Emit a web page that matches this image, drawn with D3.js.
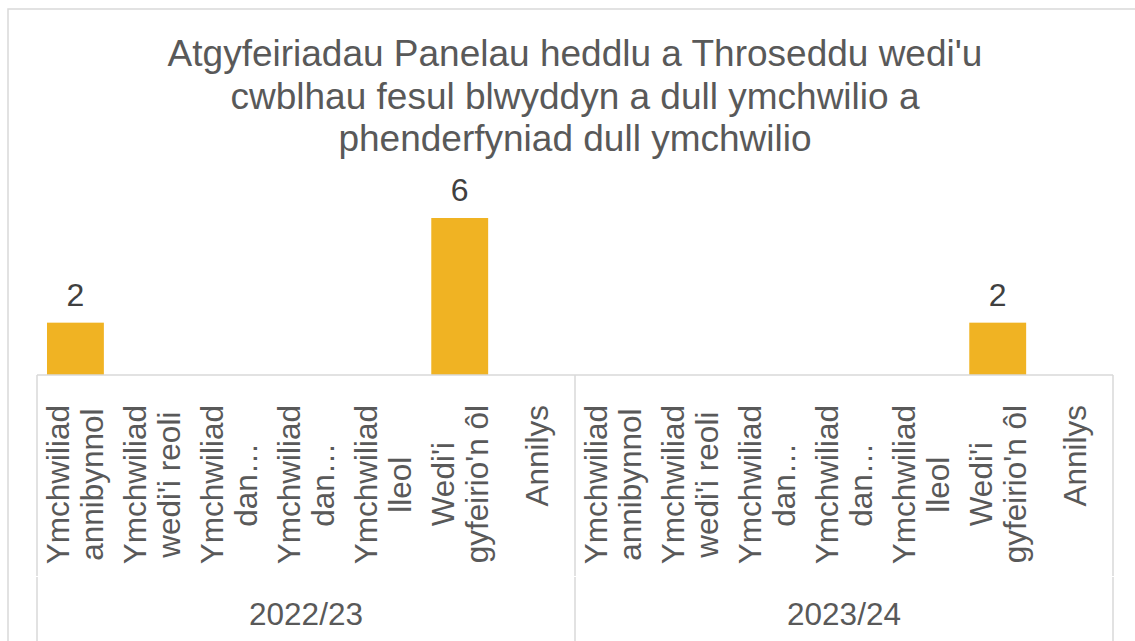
<!DOCTYPE html>
<html>
<head>
<meta charset="utf-8">
<script src="https://cdn.jsdelivr.net/npm/d3@7"></script>
<style>
body { margin: 0; background: #fff; }
svg { display: block; }
text { font-family: "Liberation Sans", Arial, sans-serif; }
</style>
</head>
<body>
<svg id="chart" width="1135" height="641"></svg>
<script>
var titleLines = [
    "Atgyfeiriadau Panelau heddlu a Throseddu wedi'u",
    "cwblhau fesul blwyddyn a dull ymchwilio a",
    "phenderfyniad dull ymchwilio"
];
var years = ["2022/23", "2023/24"];
var methods = [
    "Ymchwiliad annibynnol",
    "Ymchwiliad wedi'i reoli",
    "Ymchwiliad dan…",
    "Ymchwiliad dan…",
    "Ymchwiliad lleol",
    "Wedi'i gyfeirio'n ôl",
    "Annilys"
];
var values2022 = [2, 0, 0, 0, 0, 6, 0];
var values2023 = [0, 0, 0, 0, 0, 2, 0];
var series = [values2022, values2023];

var gold = "#F0B323";
var grid = "#d9d9d9";
var labelFont = 31.5;

var svg = d3.select("#chart");

// chart frame (cropped on the right and bottom)
svg.append("rect")
    .attr("x", 8).attr("y", 9)
    .attr("width", 1140).attr("height", 650)
    .attr("fill", "white")
    .attr("stroke", grid)
    .attr("stroke-width", 1.5);

var rows = [];
years.forEach(function(yr, g) {
    methods.forEach(function(m, i) {
        rows.push({key: yr + "|" + i, year: yr, name: m, value: series[g][i]});
    });
});

var x = d3.scaleBand()
    .domain(rows.map(function(d) { return d.key; }))
    .range([37, 1113])
    .paddingInner(0.26)
    .paddingOuter(0.13);
var xYear = d3.scaleBand().domain(years).range([37, 1113]);
var y = d3.scaleLinear().domain([0, 6]).range([375, 218]);

// title
svg.append("text")
    .attr("text-anchor", "middle")
    .attr("font-size", 37)
    .attr("fill", "#595959")
    .selectAll("tspan").data(titleLines).join("tspan")
    .attr("x", 575)
    .attr("y", function(d, i) { return 66 + i * 42.5; })
    .text(function(d) { return d; });

// bars
svg.append("g").selectAll("rect").data(rows).join("rect")
    .attr("x", function(d) { return x(d.key); })
    .attr("y", function(d) { return y(d.value); })
    .attr("width", x.bandwidth())
    .attr("height", function(d) { return y(0) - y(d.value); })
    .attr("fill", gold);

// data labels
svg.append("g").selectAll("text").data(rows.filter(function(d) { return d.value > 0; })).join("text")
    .attr("x", function(d) { return x(d.key) + x.bandwidth() / 2; })
    .attr("y", function(d) { return y(d.value) - 17; })
    .attr("text-anchor", "middle")
    .attr("font-size", 32)
    .attr("fill", "#404040")
    .text(function(d) { return d.value; });

// axis line and group dividers
var axis = svg.append("g").attr("stroke", grid).attr("stroke-width", 1.5);
axis.append("line")
    .attr("x1", xYear.range()[0]).attr("x2", xYear.range()[1])
    .attr("y1", y(0)).attr("y2", y(0));
var edges = years.map(function(yr) { return xYear(yr); }).concat([xYear.range()[1]]);
axis.selectAll(".div-top").data(edges).join("line")
    .attr("x1", function(d) { return d; }).attr("x2", function(d) { return d; })
    .attr("y1", y(0)).attr("y2", 576);
axis.selectAll(".div-bottom").data(edges).join("line")
    .attr("x1", function(d) { return d; }).attr("x2", function(d) { return d; })
    .attr("y1", 577).attr("y2", 641);

// category labels, rotated, wrapped at the first space
var wrap = function(s) {
    var k = s.indexOf(" ");
    return k < 0 ? [s] : [s.slice(0, k), s.slice(k + 1)];
};
var lh = 34;
svg.append("g").selectAll("g").data(rows).join("g")
    .each(function(d) {
        var g = d3.select(this);
        var lines = wrap(d.name);
        var t = g.append("text")
            .attr("text-anchor", "middle")
            .attr("font-size", labelFont)
            .attr("fill", "#595959");
        var maxLen = 0;
        lines.forEach(function(s, i) {
            var ts = t.append("tspan")
                .attr("x", 0)
                .attr("y", (i - (lines.length - 1) / 2) * lh + 0.35 * labelFont)
                .text(s);
            maxLen = Math.max(maxLen, ts.node().getComputedTextLength());
        });
        g.attr("transform", "translate(" + (x(d.key) + x.bandwidth() / 2) + "," + (405 + maxLen / 2) + ") rotate(-90)");
    });

// year labels
svg.append("g").selectAll("text").data(years).join("text")
    .attr("x", function(d) { return xYear(d) + xYear.bandwidth() / 2; })
    .attr("y", 625)
    .attr("text-anchor", "middle")
    .attr("font-size", labelFont)
    .attr("fill", "#595959")
    .text(function(d) { return d; });
</script>
</body>
</html>
